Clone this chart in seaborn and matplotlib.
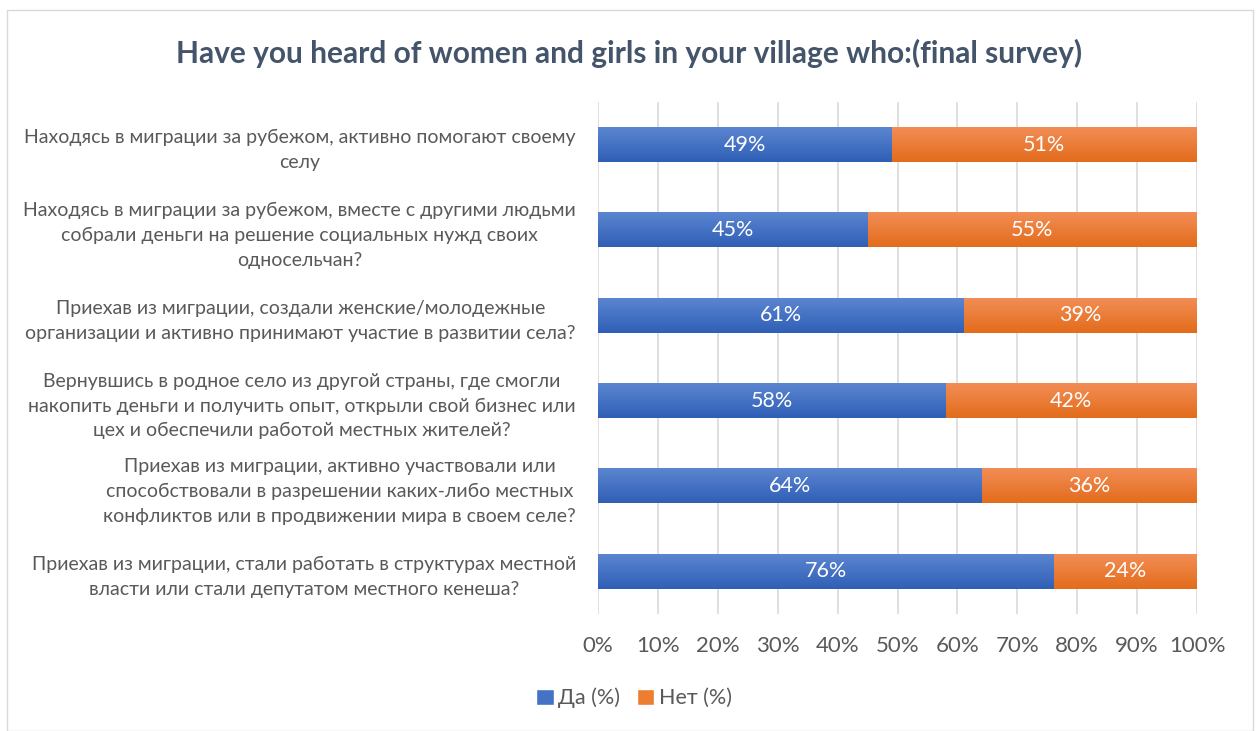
import numpy as np
import pandas as pd
import matplotlib
matplotlib.use("Agg")
import matplotlib.pyplot as plt
import seaborn as sns
from matplotlib.patches import Rectangle, Patch
from matplotlib.colors import LinearSegmentedColormap

categories = [
    "Находясь в миграции за рубежом, активно помогают своему\nселу",
    "Находясь в миграции за рубежом, вместе с другими людьми\nсобрали деньги на решение социальных нужд своих\nодносельчан?",
    "Приехав из миграции, создали женские/молодежные\nорганизации и активно принимают участие в развитии села?",
    "Вернувшись в родное село из другой страны, где смогли\nнакопить деньги и получить опыт, открыли свой бизнес или\nцех и обеспечили работой местных жителей?",
    "Приехав из миграции, активно участвовали или\nспособствовали в разрешении каких-либо местных\nконфликтов или в продвижении мира в своем селе?",
    "Приехав из миграции, стали работать в структурах местной\nвласти или стали депутатом местного кенеша?",
]
da = [49, 45, 61, 58, 64, 76]
net = [51, 55, 39, 42, 36, 24]
series_names = ["Да (%)", "Нет (%)"]
x_ticks = list(range(0, 101, 10))

title = "Have you heard of women and girls in your village who:(final survey)"

BLUE = "#4472C4"
ORANGE = "#ED7D31"
TEXT = "#595959"
TITLE_C = "#44546A"

sns.set_theme(style="white")
plt.rcParams["font.family"] = ["Lato", "DejaVu Sans"]

df = pd.DataFrame({"cat": categories, "da": da, "net": net})
df["total"] = df["da"] + df["net"]

fig = plt.figure(figsize=(12.59, 7.31), dpi=100)
ax = fig.add_axes([598 / 1259, 1 - 614 / 731, (1197 - 598) / 1259, 512 / 731])

sns.barplot(data=df, y="cat", x="total", color=ORANGE, width=0.41,
            orient="h", ax=ax, saturation=1)
sns.barplot(data=df, y="cat", x="da", color=BLUE, width=0.41,
            orient="h", ax=ax, saturation=1)

# vertical gradient fill for each bar (lighter top, darker bottom)
grad = np.linspace(0, 1, 64).reshape(-1, 1)
cmaps = {
    "o": LinearSegmentedColormap.from_list("o", ["#F28D55", "#E36C1C"]),
    "b": LinearSegmentedColormap.from_list("b", ["#5B85D0", "#2F5FB6"]),
}
n = len(categories)
for i, p in enumerate(list(ax.patches)):
    key = "o" if i < n else "b"
    x0, y0 = p.get_x(), p.get_y()
    w, h = p.get_width(), p.get_height()
    ax.imshow(grad, cmap=cmaps[key], aspect="auto",
              extent=(x0, x0 + w, y0 + h, y0), zorder=p.get_zorder() + 0.1 * (i >= n),
              interpolation="bilinear")
    p.set_visible(False)

ax.set_xlim(0, 100)
ax.set_ylim(n - 0.5, -0.5)

for i in range(n):
    ax.text(da[i] / 2, i, f"{da[i]}%", ha="center", va="center",
            color="white", fontsize=15.5, zorder=5)
    ax.text(da[i] + net[i] / 2, i, f"{net[i]}%", ha="center", va="center",
            color="white", fontsize=15.5, zorder=5)

ax.set_xticks(x_ticks)
ax.set_xticklabels([f"{t}%" for t in x_ticks], fontsize=16, color=TEXT)
ax.tick_params(axis="x", length=0, pad=16)
ax.tick_params(axis="y", length=0, pad=16)
for lab in ax.get_yticklabels():
    lab.set_multialignment("center")
    lab.set_fontsize(14)
    lab.set_linespacing(1.55)
    lab.set_color(TEXT)
ax.set_xlabel("")
ax.set_ylabel("")
ax.grid(axis="x", color="#D9D9D9", linewidth=1.2)
ax.set_axisbelow(True)
for s in ax.spines.values():
    s.set_visible(False)

fig.text(0.5, 1 - 53 / 731, title, ha="center", va="center",
         fontsize=21.5, fontweight="bold", color=TITLE_C)

handles = [Patch(facecolor=BLUE), Patch(facecolor=ORANGE)]
fig.legend(handles, series_names, loc="center", bbox_to_anchor=(634 / 1259, 1 - 698 / 731),
           ncol=2, frameon=False, fontsize=15.5, handlelength=0.8, handleheight=0.8,
           handletextpad=0.2, columnspacing=0.8, labelcolor=TEXT)

fig.add_artist(Rectangle((7 / 1259, 0), 1246 / 1259, 721 / 731, transform=fig.transFigure,
                         fill=False, edgecolor="#D9D9D9", linewidth=1))

fig.savefig("out.png", dpi=100, facecolor="white")
